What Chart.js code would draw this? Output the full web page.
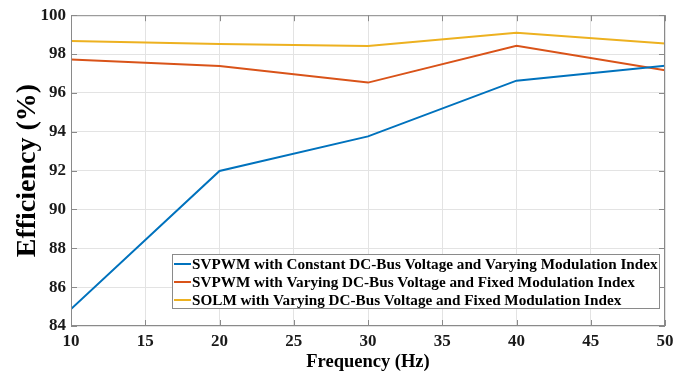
<!DOCTYPE html>
<html>
<head>
<meta charset="UTF-8">
<title>Efficiency vs Frequency</title>
<script src="https://cdn.jsdelivr.net/npm/chart.js"></script>
<style>
  html, body { margin: 0; padding: 0; background: #fff; }
  #wrap { width: 689px; height: 373px; }
</style>
</head>
<body>
<div id="wrap"><canvas id="grafico" width="689" height="373"></canvas></div>
<script>
// data
const frequencies = [10, 20, 30, 40, 50];
const seriesNames = [
  'SVPWM with Constant DC-Bus Voltage and Varying Modulation Index',
  'SVPWM with Varying DC-Bus Voltage and Fixed Modulation Index',
  'SOLM with Varying DC-Bus Voltage and Fixed Modulation Index'
];
const svpwmConstant = [84.87, 91.98, 93.76, 96.63, 97.40];
const svpwmVarying = [97.72, 97.39, 96.53, 98.43, 97.16];
const solmVarying = [98.67, 98.52, 98.42, 99.10, 98.54];
const xTicks = [10, 15, 20, 25, 30, 35, 40, 45, 50];
const yTicks = [84, 86, 88, 90, 92, 94, 96, 98, 100];

const colors = ['#0072BD', '#D95319', '#EDB120'];
const serif = "'Liberation Serif', 'Times New Roman', serif";

function toPoints(vals) {
  return frequencies.map((f, i) => ({ x: f, y: vals[i] }));
}

// MATLAB-like box with inward ticks, plus legend inside the plot
const boxPlugin = {
  id: 'boxPlugin',
  afterDraw(chart) {
    const { ctx, chartArea: a, scales } = chart;
    ctx.save();
    ctx.strokeStyle = '#8a8a8a';
    ctx.lineWidth = 1;
    ctx.strokeRect(a.left + 0.5, a.top + 0.5, a.right - a.left - 1, a.bottom - a.top - 1);
    ctx.beginPath();
    xTicks.forEach(t => {
      const px = Math.round(scales.x.getPixelForValue(t)) + 0.5;
      ctx.moveTo(px, a.bottom); ctx.lineTo(px, a.bottom - 6);
      ctx.moveTo(px, a.top); ctx.lineTo(px, a.top + 6);
    });
    yTicks.forEach(t => {
      const py = Math.round(scales.y.getPixelForValue(t)) + 0.5;
      ctx.moveTo(a.left, py); ctx.lineTo(a.left + 6, py);
      ctx.moveTo(a.right, py); ctx.lineTo(a.right - 6, py);
    });
    ctx.stroke();

    // legend
    const lx = 172, ly = 254, lw = 487, lh = 54;
    ctx.fillStyle = '#fff';
    ctx.fillRect(lx, ly, lw, lh);
    ctx.strokeStyle = '#8a8a8a';
    ctx.strokeRect(lx + 0.5, ly + 0.5, lw, lh);
    ctx.font = 'bold 15.2px ' + serif;
    ctx.textBaseline = 'middle';
    ctx.fillStyle = '#000';
    chart.data.datasets.forEach((ds, i) => {
      const cy = ly + 10 + i * 18;
      ctx.strokeStyle = ds.borderColor;
      ctx.lineWidth = 2;
      ctx.beginPath();
      ctx.moveTo(lx + 2, cy); ctx.lineTo(lx + 19, cy);
      ctx.stroke();
      ctx.fillText(ds.label, lx + 20, cy + 1);
    });
    ctx.restore();
  }
};

const ctx = document.getElementById('grafico').getContext('2d');
new Chart(ctx, {
  type: 'line',
  data: {
    datasets: [
      { label: seriesNames[0], data: toPoints(svpwmConstant), borderColor: colors[0] },
      { label: seriesNames[1], data: toPoints(svpwmVarying), borderColor: colors[1] },
      { label: seriesNames[2], data: toPoints(solmVarying), borderColor: colors[2] }
    ].map(d => Object.assign(d, { borderWidth: 2, pointRadius: 0, tension: 0, fill: false }))
  },
  options: {
    responsive: false,
    animation: false,
    layout: { padding: { top: 13, right: 24, left: 0, bottom: 0 } },
    plugins: { legend: { display: false }, tooltip: { enabled: false } },
    scales: {
      x: {
        type: 'linear', min: 10, max: 50,
        afterBuildTicks: s => { s.ticks = xTicks.map(v => ({ value: v })); },
        afterFit: s => { s.height = 47; },
        grid: { color: '#e3e3e3', drawTicks: false },
        border: { display: false },
        ticks: { color: '#1a1a1a', padding: 5, maxRotation: 0, font: { family: serif, size: 17, weight: 'bold' } },
        title: { display: true, text: 'Frequency (Hz)', color: '#000', padding: { top: -6, bottom: 0 },
                 font: { family: serif, size: 18.5, weight: 'bold' } }
      },
      y: {
        type: 'linear', min: 84, max: 100,
        afterBuildTicks: s => { s.ticks = yTicks.map(v => ({ value: v })); },
        afterFit: s => { s.width = 71; },
        grid: { color: '#e3e3e3', drawTicks: false },
        border: { display: false },
        ticks: { color: '#1a1a1a', padding: 5, font: { family: serif, size: 17, weight: 'bold' } },
        title: { display: true, text: 'Efficiency (%)', color: '#000', padding: { top: 11, bottom: 0 },
                 font: { family: serif, size: 28, weight: 'bold' } }
      }
    }
  },
  plugins: [boxPlugin]
});
</script>
</body>
</html>
